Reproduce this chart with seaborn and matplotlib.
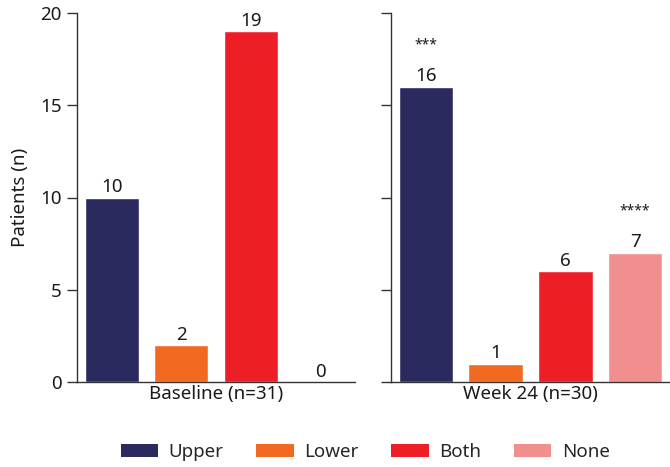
import matplotlib
matplotlib.use("Agg")
import matplotlib.pyplot as plt
import seaborn as sns
import pandas as pd
from matplotlib.patches import Patch

categories = ["Upper", "Lower", "Both", "None"]
baseline = [10, 2, 19, 0]
week24 = [16, 1, 6, 7]
panel_titles = ["Baseline (n=31)", "Week 24 (n=30)"]
week24_stars = {"Upper": "***", "None": "****"}
colors = ["#2a2a5e", "#f26a22", "#ee1e26", "#f08f8e"]

sns.set_style("white")
plt.rcParams["font.family"] = ["Noto Sans", "DejaVu Sans"]

df = pd.DataFrame({
    "Category": categories * 2,
    "Patients": baseline + week24,
    "Time": [panel_titles[0]] * 4 + [panel_titles[1]] * 4,
})

FS = 13.5
fig = plt.figure(figsize=(6.7, 4.67), dpi=100)
ax1 = fig.add_axes([77/670, 1-382/467, 278/670, 369/467])
ax2 = fig.add_axes([391/670, 1-382/467, 279/670, 369/467])
palette = dict(zip(categories, colors))

for ax, title in zip([ax1, ax2], panel_titles):
    sub = df[df["Time"] == title]
    sns.barplot(data=sub, x="Category", y="Patients", hue="Category",
                palette=palette, order=categories, hue_order=categories,
                width=0.78, saturation=1, legend=False, ax=ax)
    for c in ax.containers:
        ax.bar_label(c, padding=1, fontsize=FS, color="#1a1a1a")
    ax.set_ylim(0, 20)
    ax.set_xlim(-0.5, 3.5)
    ax.set_yticks([0, 5, 10, 15, 20])
    ax.set_xticks([])
    ax.set_xlabel(title, fontsize=FS, labelpad=2, color="#1a1a1a")
    for s in ["top", "right"]:
        ax.spines[s].set_visible(False)
    for s in ["left", "bottom"]:
        ax.spines[s].set_color("#333333")
        ax.spines[s].set_linewidth(1.0)
    ax.tick_params(axis="y", direction="out", length=7, width=1, pad=4,
                   color="#333333", labelsize=FS, labelcolor="#1a1a1a", left=True)

ax1.set_ylabel("Patients (n)", fontsize=FS, color="#1a1a1a", labelpad=8)
ax2.set_ylabel("")
ax2.set_yticklabels([])

for i, cat in enumerate(categories):
    if cat in week24_stars:
        ax2.annotate(week24_stars[cat], xy=(i, week24[i]), xytext=(0, 25),
                     textcoords="offset points", ha="center", va="bottom",
                     fontsize=10, fontweight="bold", color="#1a1a1a")

handles = [Patch(facecolor=c, edgecolor="none") for c in colors]
fig.legend(handles, categories, loc="center", bbox_to_anchor=(0.545, 1-452/467),
           ncol=4, frameon=False, fontsize=FS, handlelength=2.0, handleheight=0.75,
           columnspacing=1.75, handletextpad=0.55)

fig.savefig("out.png", dpi=100)
